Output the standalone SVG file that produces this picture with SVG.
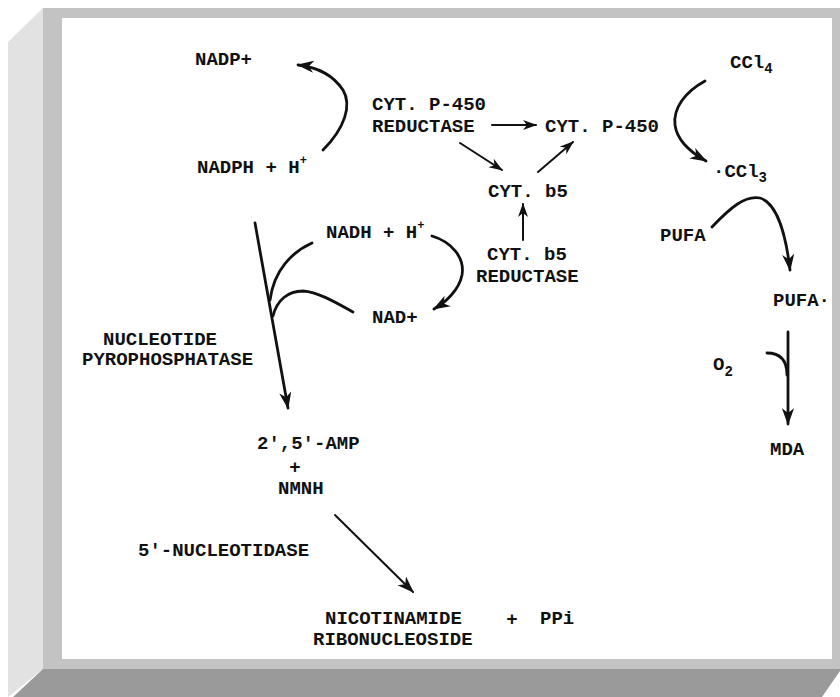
<svg xmlns="http://www.w3.org/2000/svg" width="840" height="697" viewBox="0 0 840 697">
<defs>
<style>
text{font-family:"Liberation Mono","DejaVu Sans Mono",monospace;font-weight:bold;font-size:19px;fill:#111}
.sub{font-size:14px}
.sup{font-size:12px}
.c{fill:none;stroke:#111;stroke-width:2.8;stroke-linecap:round}
.t{fill:none;stroke:#111;stroke-width:2;stroke-linecap:round}
</style>
<marker id="ah" viewBox="0 0 14 10" refX="13" refY="5" markerWidth="14" markerHeight="11" markerUnits="userSpaceOnUse" orient="auto">
<path d="M0,0 L14,5 L0,10 L4,5 z" fill="#111"/>
</marker>
<marker id="ahb" viewBox="0 0 14 10" refX="13" refY="5" markerWidth="17" markerHeight="13" markerUnits="userSpaceOnUse" orient="auto">
<path d="M0,0 L14,5 L0,10 L4,5 z" fill="#111"/>
</marker>
</defs>
<g id="frame">
<polygon points="8,42 43,8 43,669 8,697" fill="#e2e2e2"/>
<rect x="43" y="8" width="797" height="661" fill="#c3c3c3"/>
<polygon points="43,669 840,669 840,671 822,697 13,697" fill="#9a9a9a"/>
<rect x="62" y="18" width="770" height="641" fill="#ffffff"/>
</g>
<g id="connectors">
<path class="c" d="M323,150 C345,128 352,105 343,90 C333,75 316,67 298,65" marker-end="url(#ahb)"/>
<path class="t" d="M492,125 L536,125" marker-end="url(#ah)"/>
<path class="t" d="M460,143 L502,170" marker-end="url(#ah)"/>
<path class="t" d="M538,172 L573,142" marker-end="url(#ah)"/>
<path class="t" d="M523,240 L523,204" marker-end="url(#ah)"/>
<path class="c" d="M432,236 C452,242 465,258 462,275 C459,290 446,302 434,309" marker-end="url(#ahb)"/>
<path class="c" d="M255,223 L288,408" marker-end="url(#ahb)"/>
<path class="c" d="M312,243 C292,252 274,270 270,300"/>
<path class="c" d="M353,312 C335,302 318,292 303,291 C288,291 277,300 273,316"/>
<path class="t" d="M335,515 L413,592" marker-end="url(#ahb)"/>
<path class="c" d="M705,81 C685,92 673,108 675,125 C677,140 690,152 706,161" marker-end="url(#ahb)"/>
<path class="c" d="M712,227 C730,208 745,195 760,198 C777,203 786,235 790,270" marker-end="url(#ahb)"/>
<path class="c" d="M788,332 L788,424" marker-end="url(#ahb)"/>
<path class="c" d="M767,353 C780,353 787,360 787,375"/>
</g>
<g id="nadp"><text x="195" y="65">NADP+</text></g>
<g id="nadph"><text x="197" y="173">NADPH + H<tspan class="sup" dy="-9">+</tspan></text></g>
<g id="p450red"><text x="372" y="110">CYT. P-450</text><text x="372" y="132">REDUCTASE</text></g>
<g id="p450"><text x="545" y="132">CYT. P-450</text></g>
<g id="b5"><text x="488" y="197">CYT. b5</text></g>
<g id="b5red"><text x="487" y="260">CYT. b5</text><text x="476" y="282">REDUCTASE</text></g>
<g id="nadh"><text x="326" y="238">NADH + H<tspan class="sup" dy="-9">+</tspan></text></g>
<g id="nad"><text x="372" y="323">NAD+</text></g>
<g id="npp"><text x="103" y="345">NUCLEOTIDE</text><text x="82" y="365">PYROPHOSPHATASE</text></g>
<g id="amp"><text x="257" y="449">2',5'-AMP</text><text x="295" y="473" text-anchor="middle">+</text><text x="278" y="494">NMNH</text></g>
<g id="nucleotidase"><text x="138" y="556">5'-NUCLEOTIDASE</text></g>
<g id="nr"><text x="325" y="624">NICOTINAMIDE</text><text x="313" y="645">RIBONUCLEOSIDE</text></g>
<g id="plus"><text x="512" y="625" text-anchor="middle">+</text></g>
<g id="ppi"><text x="540" y="624">PPi</text></g>
<g id="ccl4"><text x="730" y="68">CCl<tspan class="sub" dy="5">4</tspan></text></g>
<g id="ccl3"><text x="713" y="177">·CCl<tspan class="sub" dy="5">3</tspan></text></g>
<g id="pufa"><text x="660" y="241">PUFA</text></g>
<g id="pufar"><text x="773" y="306">PUFA·</text></g>
<g id="o2"><text x="713" y="370">O<tspan class="sub" dy="6">2</tspan></text></g>
<g id="mda"><text x="770" y="455">MDA</text></g>
</svg>
